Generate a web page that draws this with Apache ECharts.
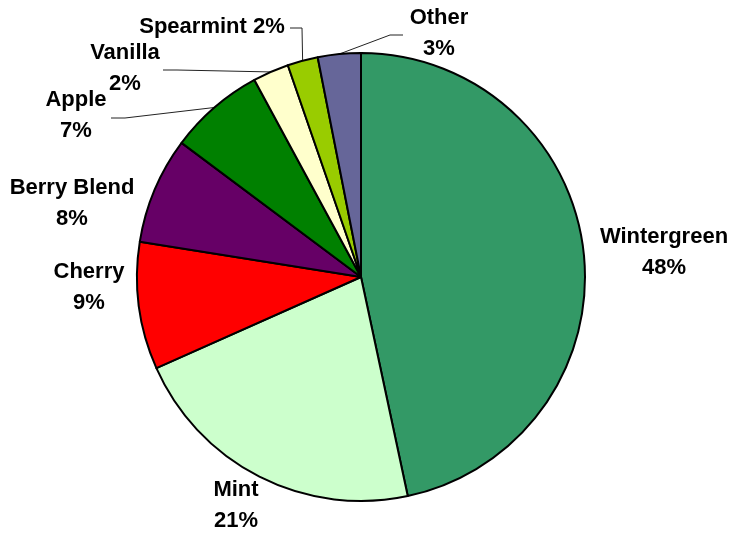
<!DOCTYPE html>
<html>
<head>
<meta charset="utf-8">
<script src="https://cdn.jsdelivr.net/npm/echarts@6/dist/echarts.min.js"></script>
<style>
    html, body { margin: 0; padding: 0; background: #fff; }
    #flavors { width: 734px; height: 534px; }
</style>
</head>
<body>
<div id="flavors"></div>
<script>
    var flavors = ['Wintergreen', 'Mint', 'Cherry', 'Berry Blend', 'Apple', 'Vanilla', 'Spearmint', 'Other'];
    var shares = [46.7, 21.7, 9.2, 7.7, 6.9, 2.6, 2.2, 3.1];
    var shownPercents = ['48%', '21%', '9%', '8%', '7%', '2%', '2%', '3%'];

    var colors = ['#339966', '#ccffcc', '#ff0000', '#660066', '#008000', '#ffffcc', '#99cc00', '#666699'];

    // where each label block sits, and the elbow / end of the leader lines
    var labelSpots = [
        { x: 664, y: 252 },
        { x: 236, y: 505 },
        { x: 89, y: 287 },
        { x: 72, y: 203 },
        { x: 76, y: 115, elbow: [125, 118], end: [111, 118] },
        { x: 125, y: 68, elbow: [177, 70], end: [163, 70] },
        { x: 212, y: 27, elbow: [302, 28], end: [290, 28] },
        { x: 439, y: 33, elbow: [390, 35], end: [403, 35] }
    ];

    var chart = echarts.init(document.getElementById('flavors'));

    var pieData = flavors.map(function (name, i) {
        return {
            name: name,
            value: shares[i],
            itemStyle: { color: colors[i] },
            labelLine: { show: !!labelSpots[i].elbow }
        };
    });

    var option = {
        animation: false,
        series: [{
            type: 'pie',
            center: [361, 277],
            radius: 224,
            startAngle: 90,
            clockwise: true,
            avoidLabelOverlap: false,
            itemStyle: {
                borderColor: '#000',
                borderWidth: 2
            },
            emphasis: { disabled: true },
            label: {
                show: true,
                position: 'outside',
                color: '#000',
                fontFamily: 'Arial, "Liberation Sans", sans-serif',
                fontWeight: 'bold',
                fontSize: 22,
                lineHeight: 31,
                align: 'center',
                formatter: function (p) {
                    if (p.name === 'Spearmint') {
                        return p.name + ' ' + shownPercents[p.dataIndex];
                    }
                    return p.name + '\n' + shownPercents[p.dataIndex];
                }
            },
            labelLine: {
                lineStyle: { color: '#222', width: 1 }
            },
            labelLayout: function (params) {
                var s = labelSpots[params.dataIndex];
                var out = { x: s.x, y: s.y, align: 'center', verticalAlign: 'middle' };
                if (s.elbow && params.labelLinePoints) {
                    out.labelLinePoints = [params.labelLinePoints[0], s.elbow, s.end];
                }
                return out;
            },
            data: pieData
        }]
    };

    chart.setOption(option);
</script>
</body>
</html>
